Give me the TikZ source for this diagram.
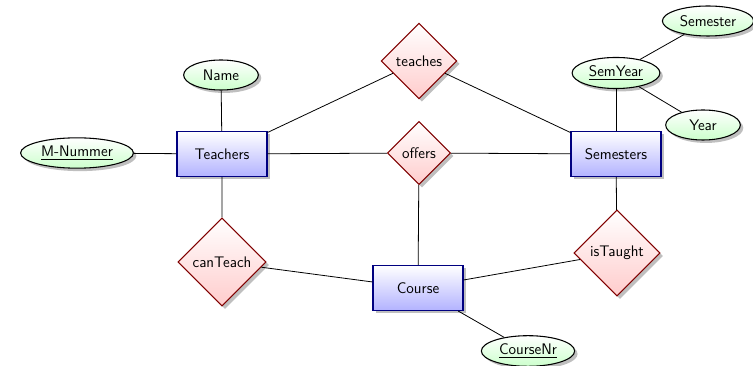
\documentclass[tikz,border=0pt]{standalone}
\usepackage{tikz}
\usetikzlibrary{shapes,shadows,positioning}
\renewcommand{\familydefault}{\sfdefault}

\begin{document}
\begin{tikzpicture}[x=0.75pt,y=-0.75pt,font=\fontsize{11.5}{14}\selectfont,
  entity/.style={rectangle,draw=blue!50!black,thick,top color=white,bottom color=blue!30,
    minimum width=67.5pt,minimum height=33.75pt,drop shadow},
  relship/.style={diamond,aspect=1,draw=red!50!black,thick,top color=white,bottom color=red!20,
    inner sep=3.5pt,drop shadow},
  attr/.style={ellipse,draw,thick,top color=white,bottom color=green!20,
    inner sep=3pt,minimum width=56pt,minimum height=22.5pt,drop shadow},
  link/.style={draw,semithick}]
\useasboundingbox (0,0) rectangle (753,366);
% entities
\node[entity] (teachers)  at (222,154) {Teachers};
\node[entity] (semesters) at (616,154) {Semesters};
\node[entity] (course)    at (418,288) {Course};
% relationships
\node[relship] (teaches)  at (419,61)  {teaches};
\node[relship] (offers)   at (419,153) {offers};
\node[relship] (canteach) at (222,262) {canTeach};
\node[relship] (istaught) at (617,253) {isTaught};
% attributes
\node[attr] (name)     at (221,75)  {Name};
\node[attr] (mnummer)  at (77,153)  {\underline{M-Nummer}};
\node[attr] (semyear)  at (616,73)  {\underline{SemYear}};
\node[attr] (semester) at (708,21)  {Semester};
\node[attr] (year)     at (703,125) {Year};
\node[attr] (coursenr) at (528,351) {\underline{CourseNr}};
%
\begin{scope}[on background layer/.try]
\draw[link] (teachers) -- (name);
\draw[link] (teachers) -- (mnummer);
\draw[link] (teachers) -- (teaches) -- (semesters);
\draw[link] (teachers) -- (offers) -- (semesters);
\draw[link] (teachers) -- (canteach) -- (course);
\draw[link] (offers) -- (course);
\draw[link] (semesters) -- (istaught) -- (course);
\draw[link] (semesters) -- (semyear);
\draw[link] (semyear) -- (semester);
\draw[link] (semyear) -- (year);
\draw[link] (course) -- (coursenr);
\end{scope}
%
\end{tikzpicture}
\end{document}
